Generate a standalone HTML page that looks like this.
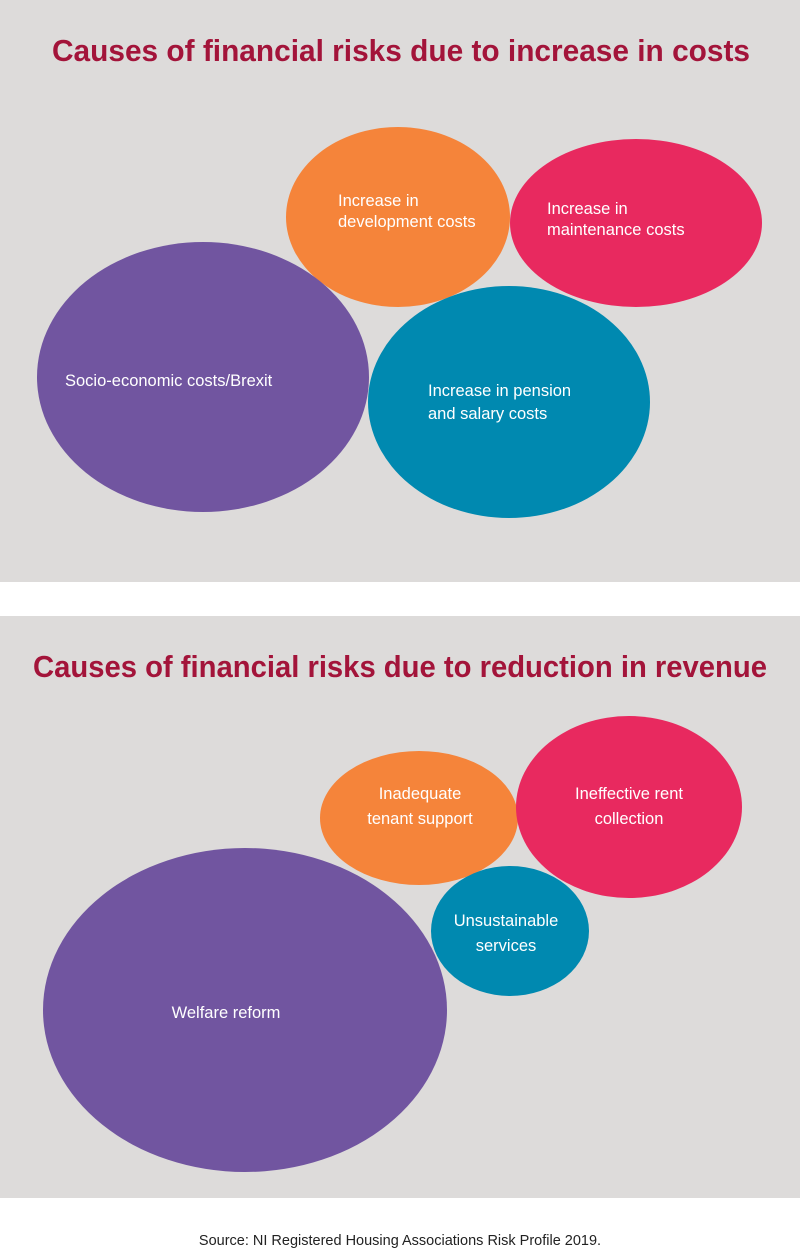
<!DOCTYPE html>
<html><head><meta charset="utf-8"><style>
html,body{margin:0;padding:0;background:#fff;width:800px;height:1250px;overflow:hidden}
svg{display:block}
text{font-family:"Liberation Sans Narrow","Liberation Sans",sans-serif}
</style></head><body>
<svg width="800" height="1250" viewBox="0 0 800 1250" xmlns="http://www.w3.org/2000/svg">
<rect x="0" y="0" width="800" height="582" fill="#dddbda"/>
<rect x="0" y="616" width="800" height="582" fill="#dddbda"/>
<text x="401" y="61" text-anchor="middle" font-size="31" font-weight="bold" fill="#a3143a" textLength="698" lengthAdjust="spacingAndGlyphs">Causes of financial risks due to increase in costs</text>
<ellipse cx="398" cy="217" rx="112" ry="90" fill="#f5843a"/>
<ellipse cx="636" cy="223" rx="126" ry="84" fill="#e8295f"/>
<ellipse cx="203" cy="377" rx="166" ry="135" fill="#7155a0"/>
<ellipse cx="509" cy="402" rx="141" ry="116" fill="#0089b0"/>
<g fill="#fff" font-size="16.5">
<text x="338" y="206">Increase in</text>
<text x="338" y="227">development costs</text>
<text x="547" y="214">Increase in</text>
<text x="547" y="235">maintenance costs</text>
<text x="65" y="386">Socio-economic costs/Brexit</text>
<text x="428" y="396">Increase in pension</text>
<text x="428" y="419">and salary costs</text>
</g>
<text x="400" y="677" text-anchor="middle" font-size="31" font-weight="bold" fill="#a3143a" textLength="734" lengthAdjust="spacingAndGlyphs">Causes of financial risks due to reduction in revenue</text>
<ellipse cx="419" cy="818" rx="99" ry="67" fill="#f5843a"/>
<ellipse cx="629" cy="807" rx="113" ry="91" fill="#e8295f"/>
<ellipse cx="510" cy="931" rx="79" ry="65" fill="#0089b0"/>
<ellipse cx="245" cy="1010" rx="202" ry="162" fill="#7155a0"/>
<g fill="#fff" font-size="16.5" text-anchor="middle">
<text x="420" y="799">Inadequate</text>
<text x="420" y="824">tenant support</text>
<text x="629" y="799">Ineffective rent</text>
<text x="629" y="824">collection</text>
<text x="506" y="926">Unsustainable</text>
<text x="506" y="951">services</text>
<text x="226" y="1018">Welfare reform</text>
</g>
<text x="400" y="1245" text-anchor="middle" font-size="14.5" fill="#222">Source: NI Registered Housing Associations Risk Profile 2019.</text>
</svg>
</body></html>
